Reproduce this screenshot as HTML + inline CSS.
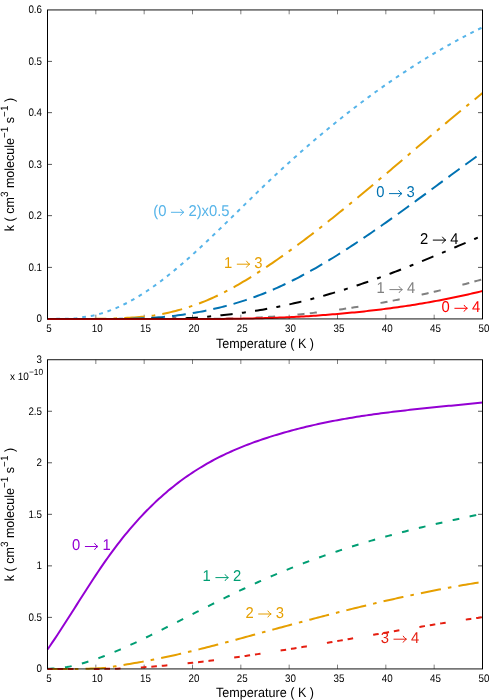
<!DOCTYPE html>
<html lang="en"><head><meta charset="utf-8"><title>chart</title>
<style>html,body{margin:0;padding:0;background:#fff}svg{display:block;will-change:transform}text{text-rendering:geometricPrecision}</style></head>
<body>
<svg width="500" height="700" viewBox="0 0 500 700">
<rect width="500" height="700" fill="#fff"/>
<path d="M95.83 319 v-4.3 M95.83 10 v4.3 M144.17 319 v-4.3 M144.17 10 v4.3 M192.50 319 v-4.3 M192.50 10 v4.3 M240.83 319 v-4.3 M240.83 10 v4.3 M289.17 319 v-4.3 M289.17 10 v4.3 M337.50 319 v-4.3 M337.50 10 v4.3 M385.83 319 v-4.3 M385.83 10 v4.3 M434.17 319 v-4.3 M434.17 10 v4.3" stroke="#000" stroke-width="0.5" fill="none"/>
<path d="M48 267.40 h4 M482 267.40 h-4 M48 215.65 h4 M482 215.65 h-4 M48 164.40 h4 M482 164.40 h-4 M48 112.65 h4 M482 112.65 h-4 M48 61.40 h4 M482 61.40 h-4" stroke="#000" stroke-width="0.66" fill="none"/>
<path d="M47.50 319.00 L49.92 318.95 L52.33 318.90 L54.75 318.86 L57.17 318.83 L59.58 318.81 L62.00 318.79 L64.42 318.77 L66.83 318.75 L69.25 318.71 L71.67 318.66 L74.08 318.52 L76.50 318.27 L78.92 317.93 L81.33 317.46 L83.75 317.06 L86.17 316.74 L88.58 316.40 L91.00 316.00 L93.42 315.54 L95.83 314.96 L98.25 314.34 L100.67 313.66 L103.08 312.93 L105.50 312.15 L107.92 311.31 L110.33 310.43 L112.75 309.49 L115.17 308.49 L117.58 307.45 L120.00 306.35 L122.42 305.21 L124.83 304.02 L127.25 302.78 L129.67 301.49 L132.08 300.16 L134.50 298.78 L136.92 297.36 L139.33 295.90 L141.75 294.39 L144.17 292.85 L146.58 291.26 L149.00 289.63 L151.42 287.96 L153.83 286.26 L156.25 284.52 L158.67 282.74 L161.08 280.93 L163.50 279.08 L165.92 277.20 L168.33 275.29 L170.75 273.34 L173.17 271.37 L175.58 269.37 L178.00 267.34 L180.42 265.29 L182.83 263.20 L185.25 261.10 L187.67 258.97 L190.08 256.82 L192.50 254.65 L194.92 252.45 L197.33 250.24 L199.75 248.01 L202.17 245.77 L204.58 243.50 L207.00 241.23 L209.42 238.93 L211.83 236.63 L214.25 234.31 L216.67 231.99 L219.08 229.65 L221.50 227.31 L223.92 224.96 L226.33 222.60 L228.75 220.24 L231.17 217.87 L233.58 215.50 L236.00 213.13 L238.42 210.75 L240.83 208.38 L243.25 206.01 L245.67 203.64 L248.08 201.27 L250.50 198.91 L252.92 196.55 L255.33 194.20 L257.75 191.86 L260.17 189.53 L262.58 187.20 L265.00 184.89 L267.42 182.59 L269.83 180.30 L272.25 178.02 L274.67 175.75 L277.08 173.50 L279.50 171.26 L281.92 169.03 L284.33 166.81 L286.75 164.60 L289.17 162.41 L291.58 160.23 L294.00 158.06 L296.42 155.90 L298.83 153.75 L301.25 151.62 L303.67 149.50 L306.08 147.39 L308.50 145.29 L310.92 143.20 L313.33 141.13 L315.75 139.07 L318.17 137.02 L320.58 134.98 L323.00 132.96 L325.42 130.95 L327.83 128.95 L330.25 126.96 L332.67 124.98 L335.08 123.02 L337.50 121.07 L339.92 119.13 L342.33 117.21 L344.75 115.29 L347.17 113.39 L349.58 111.51 L352.00 109.63 L354.42 107.77 L356.83 105.92 L359.25 104.08 L361.67 102.25 L364.08 100.44 L366.50 98.64 L368.92 96.85 L371.33 95.07 L373.75 93.31 L376.17 91.56 L378.58 89.82 L381.00 88.10 L383.42 86.39 L385.83 84.69 L388.25 83.00 L390.67 81.33 L393.08 79.66 L395.50 78.02 L397.92 76.38 L400.33 74.76 L402.75 73.15 L405.17 71.55 L407.58 69.97 L410.00 68.39 L412.42 66.84 L414.83 65.29 L417.25 63.76 L419.67 62.24 L422.08 60.73 L424.50 59.24 L426.92 57.76 L429.33 56.29 L431.75 54.83 L434.17 53.39 L436.58 51.96 L439.00 50.55 L441.42 49.15 L443.83 47.76 L446.25 46.38 L448.67 45.02 L451.08 43.67 L453.50 42.33 L455.92 41.01 L458.33 39.70 L460.75 38.40 L463.17 37.12 L465.58 35.85 L468.00 34.59 L470.42 33.35 L472.83 32.12 L475.25 30.90 L477.67 29.70 L480.08 28.51 L482.50 27.33" stroke="#56b4e9" stroke-width="2" fill="none" stroke-dasharray="3.8 4.872" stroke-dashoffset="-0.1"/>
<path d="M47.50 319.00 L49.92 319.00 L52.33 319.00 L54.75 319.00 L57.17 319.00 L59.58 318.99 L62.00 318.99 L64.42 318.98 L66.83 318.98 L69.25 318.97 L71.67 318.97 L74.08 318.96 L76.50 318.96 L78.92 318.95 L81.33 318.94 L83.75 318.93 L86.17 318.92 L88.58 318.91 L91.00 318.90 L93.42 318.89 L95.83 318.87 L98.25 318.85 L100.67 318.82 L103.08 318.77 L105.50 318.72 L107.92 318.65 L110.33 318.57 L112.75 318.49 L115.17 318.40 L117.58 318.31 L120.00 318.21 L122.42 318.11 L124.83 317.99 L127.25 317.86 L129.67 317.72 L132.08 317.57 L134.50 317.42 L136.92 317.25 L139.33 317.06 L141.75 316.85 L144.17 316.63 L146.58 316.37 L149.00 316.08 L151.42 315.77 L153.83 315.44 L156.25 315.05 L158.67 314.64 L161.08 314.19 L163.50 313.72 L165.92 313.22 L168.33 312.69 L170.75 312.14 L173.17 311.56 L175.58 310.94 L178.00 310.30 L180.42 309.63 L182.83 308.94 L185.25 308.21 L187.67 307.45 L190.08 306.67 L192.50 305.85 L194.92 305.01 L197.33 304.13 L199.75 303.22 L202.17 302.29 L204.58 301.32 L207.00 300.32 L209.42 299.29 L211.83 298.23 L214.25 297.14 L216.67 296.02 L219.08 294.86 L221.50 293.67 L223.92 292.46 L226.33 291.21 L228.75 289.93 L231.17 288.63 L233.58 287.30 L236.00 285.95 L238.42 284.56 L240.83 283.16 L243.25 281.73 L245.67 280.28 L248.08 278.80 L250.50 277.31 L252.92 275.79 L255.33 274.26 L257.75 272.71 L260.17 271.14 L262.58 269.55 L265.00 267.95 L267.42 266.33 L269.83 264.70 L272.25 263.05 L274.67 261.39 L277.08 259.72 L279.50 258.03 L281.92 256.32 L284.33 254.61 L286.75 252.88 L289.17 251.14 L291.58 249.39 L294.00 247.62 L296.42 245.84 L298.83 244.05 L301.25 242.25 L303.67 240.44 L306.08 238.62 L308.50 236.78 L310.92 234.94 L313.33 233.09 L315.75 231.22 L318.17 229.35 L320.58 227.47 L323.00 225.57 L325.42 223.67 L327.83 221.76 L330.25 219.84 L332.67 217.92 L335.08 215.98 L337.50 214.04 L339.92 212.09 L342.33 210.14 L344.75 208.17 L347.17 206.20 L349.58 204.23 L352.00 202.24 L354.42 200.26 L356.83 198.26 L359.25 196.26 L361.67 194.26 L364.08 192.25 L366.50 190.23 L368.92 188.22 L371.33 186.19 L373.75 184.17 L376.17 182.14 L378.58 180.11 L381.00 178.07 L383.42 176.03 L385.83 173.99 L388.25 171.95 L390.67 169.90 L393.08 167.85 L395.50 165.80 L397.92 163.75 L400.33 161.70 L402.75 159.65 L405.17 157.60 L407.58 155.54 L410.00 153.49 L412.42 151.44 L414.83 149.39 L417.25 147.33 L419.67 145.28 L422.08 143.23 L424.50 141.19 L426.92 139.14 L429.33 137.10 L431.75 135.05 L434.17 133.01 L436.58 130.98 L439.00 128.94 L441.42 126.91 L443.83 124.89 L446.25 122.86 L448.67 120.84 L451.08 118.83 L453.50 116.82 L455.92 114.81 L458.33 112.81 L460.75 110.82 L463.17 108.83 L465.58 106.85 L468.00 104.87 L470.42 102.90 L472.83 100.93 L475.25 98.97 L477.67 97.02 L480.08 95.08 L482.50 93.14" stroke="#e69f00" stroke-width="2" fill="none" stroke-dasharray="20.4 7.1 3.6 7.15" stroke-dashoffset="-0.3"/>
<path d="M47.50 319.00 L49.92 319.00 L52.33 319.00 L54.75 319.00 L57.17 319.00 L59.58 319.00 L62.00 319.00 L64.42 318.99 L66.83 318.99 L69.25 318.99 L71.67 318.99 L74.08 318.99 L76.50 318.98 L78.92 318.98 L81.33 318.98 L83.75 318.97 L86.17 318.97 L88.58 318.96 L91.00 318.96 L93.42 318.95 L95.83 318.95 L98.25 318.94 L100.67 318.94 L103.08 318.93 L105.50 318.92 L107.92 318.92 L110.33 318.91 L112.75 318.90 L115.17 318.89 L117.58 318.88 L120.00 318.87 L122.42 318.86 L124.83 318.83 L127.25 318.78 L129.67 318.72 L132.08 318.65 L134.50 318.58 L136.92 318.49 L139.33 318.40 L141.75 318.31 L144.17 318.21 L146.58 318.11 L149.00 317.98 L151.42 317.84 L153.83 317.69 L156.25 317.52 L158.67 317.34 L161.08 317.15 L163.50 316.94 L165.92 316.72 L168.33 316.48 L170.75 316.22 L173.17 315.94 L175.58 315.64 L178.00 315.32 L180.42 314.97 L182.83 314.64 L185.25 314.29 L187.67 313.92 L190.08 313.54 L192.50 313.14 L194.92 312.73 L197.33 312.30 L199.75 311.86 L202.17 311.40 L204.58 310.92 L207.00 310.43 L209.42 309.92 L211.83 309.39 L214.25 308.85 L216.67 308.29 L219.08 307.71 L221.50 307.11 L223.92 306.49 L226.33 305.86 L228.75 305.21 L231.17 304.53 L233.58 303.84 L236.00 303.13 L238.42 302.40 L240.83 301.65 L243.25 300.88 L245.67 300.09 L248.08 299.27 L250.50 298.44 L252.92 297.59 L255.33 296.71 L257.75 295.81 L260.17 294.90 L262.58 293.95 L265.00 292.99 L267.42 292.00 L269.83 291.00 L272.25 289.97 L274.67 288.91 L277.08 287.84 L279.50 286.74 L281.92 285.63 L284.33 284.49 L286.75 283.34 L289.17 282.16 L291.58 280.97 L294.00 279.75 L296.42 278.52 L298.83 277.27 L301.25 276.00 L303.67 274.71 L306.08 273.41 L308.50 272.08 L310.92 270.74 L313.33 269.39 L315.75 268.02 L318.17 266.63 L320.58 265.22 L323.00 263.81 L325.42 262.37 L327.83 260.92 L330.25 259.46 L332.67 257.98 L335.08 256.49 L337.50 254.99 L339.92 253.47 L342.33 251.94 L344.75 250.40 L347.17 248.84 L349.58 247.28 L352.00 245.70 L354.42 244.11 L356.83 242.51 L359.25 240.90 L361.67 239.28 L364.08 237.65 L366.50 236.01 L368.92 234.36 L371.33 232.70 L373.75 231.03 L376.17 229.36 L378.58 227.68 L381.00 225.99 L383.42 224.29 L385.83 222.58 L388.25 220.87 L390.67 219.15 L393.08 217.43 L395.50 215.70 L397.92 213.96 L400.33 212.22 L402.75 210.47 L405.17 208.72 L407.58 206.97 L410.00 205.21 L412.42 203.45 L414.83 201.69 L417.25 199.92 L419.67 198.15 L422.08 196.38 L424.50 194.60 L426.92 192.83 L429.33 191.05 L431.75 189.27 L434.17 187.49 L436.58 185.71 L439.00 183.93 L441.42 182.15 L443.83 180.37 L446.25 178.60 L448.67 176.82 L451.08 175.05 L453.50 173.27 L455.92 171.50 L458.33 169.73 L460.75 167.97 L463.17 166.21 L465.58 164.45 L468.00 162.69 L470.42 160.94 L472.83 159.20 L475.25 157.45 L477.67 155.72 L480.08 153.99 L482.50 152.26" stroke="#0072b2" stroke-width="2" fill="none" stroke-dasharray="13.85 7.06" stroke-dashoffset="0.8"/>
<path d="M47.50 319.00 L49.92 319.00 L52.33 319.00 L54.75 319.00 L57.17 319.00 L59.58 319.00 L62.00 319.00 L64.42 319.00 L66.83 319.00 L69.25 319.00 L71.67 319.00 L74.08 318.99 L76.50 318.99 L78.92 318.99 L81.33 318.99 L83.75 318.99 L86.17 318.99 L88.58 318.99 L91.00 318.99 L93.42 318.98 L95.83 318.98 L98.25 318.98 L100.67 318.98 L103.08 318.98 L105.50 318.97 L107.92 318.97 L110.33 318.97 L112.75 318.97 L115.17 318.96 L117.58 318.96 L120.00 318.96 L122.42 318.95 L124.83 318.95 L127.25 318.95 L129.67 318.94 L132.08 318.94 L134.50 318.93 L136.92 318.93 L139.33 318.93 L141.75 318.92 L144.17 318.92 L146.58 318.91 L149.00 318.89 L151.42 318.87 L153.83 318.84 L156.25 318.81 L158.67 318.78 L161.08 318.74 L163.50 318.70 L165.92 318.66 L168.33 318.62 L170.75 318.57 L173.17 318.52 L175.58 318.47 L178.00 318.42 L180.42 318.35 L182.83 318.28 L185.25 318.21 L187.67 318.12 L190.08 318.03 L192.50 317.93 L194.92 317.81 L197.33 317.65 L199.75 317.44 L202.17 317.20 L204.58 316.95 L207.00 316.69 L209.42 316.44 L211.83 316.19 L214.25 315.94 L216.67 315.70 L219.08 315.46 L221.50 315.22 L223.92 314.97 L226.33 314.71 L228.75 314.44 L231.17 314.17 L233.58 313.88 L236.00 313.59 L238.42 313.28 L240.83 312.97 L243.25 312.64 L245.67 312.31 L248.08 311.96 L250.50 311.61 L252.92 311.24 L255.33 310.86 L257.75 310.48 L260.17 310.08 L262.58 309.67 L265.00 309.25 L267.42 308.81 L269.83 308.37 L272.25 307.91 L274.67 307.45 L277.08 306.97 L279.50 306.48 L281.92 305.98 L284.33 305.47 L286.75 304.95 L289.17 304.42 L291.58 303.88 L294.00 303.33 L296.42 302.77 L298.83 302.19 L301.25 301.61 L303.67 301.02 L306.08 300.41 L308.50 299.80 L310.92 299.17 L313.33 298.54 L315.75 297.90 L318.17 297.24 L320.58 296.58 L323.00 295.91 L325.42 295.23 L327.83 294.53 L330.25 293.83 L332.67 293.12 L335.08 292.40 L337.50 291.67 L339.92 290.94 L342.33 290.19 L344.75 289.43 L347.17 288.67 L349.58 287.89 L352.00 287.11 L354.42 286.32 L356.83 285.52 L359.25 284.71 L361.67 283.89 L364.08 283.07 L366.50 282.24 L368.92 281.39 L371.33 280.54 L373.75 279.69 L376.17 278.82 L378.58 277.95 L381.00 277.07 L383.42 276.18 L385.83 275.28 L388.25 274.38 L390.67 273.47 L393.08 272.55 L395.50 271.63 L397.92 270.70 L400.33 269.76 L402.75 268.82 L405.17 267.87 L407.58 266.92 L410.00 265.96 L412.42 265.00 L414.83 264.03 L417.25 263.05 L419.67 262.08 L422.08 261.09 L424.50 260.11 L426.92 259.11 L429.33 258.12 L431.75 257.12 L434.17 256.12 L436.58 255.11 L439.00 254.10 L441.42 253.09 L443.83 252.08 L446.25 251.06 L448.67 250.04 L451.08 249.02 L453.50 248.00 L455.92 246.97 L458.33 245.94 L460.75 244.92 L463.17 243.89 L465.58 242.85 L468.00 241.82 L470.42 240.79 L472.83 239.76 L475.25 238.72 L477.67 237.69 L480.08 236.66 L482.50 235.62" stroke="#000000" stroke-width="2" fill="none" stroke-dasharray="12.3 9.3 4.0 9.33" stroke-dashoffset="1.6"/>
<path d="M47.50 319.00 L49.92 319.00 L52.33 319.00 L54.75 319.00 L57.17 319.00 L59.58 319.00 L62.00 319.00 L64.42 319.00 L66.83 319.00 L69.25 319.00 L71.67 319.00 L74.08 319.00 L76.50 319.00 L78.92 319.00 L81.33 319.00 L83.75 319.00 L86.17 319.00 L88.58 318.99 L91.00 318.99 L93.42 318.99 L95.83 318.99 L98.25 318.99 L100.67 318.99 L103.08 318.99 L105.50 318.99 L107.92 318.99 L110.33 318.99 L112.75 318.99 L115.17 318.99 L117.58 318.98 L120.00 318.98 L122.42 318.98 L124.83 318.98 L127.25 318.98 L129.67 318.98 L132.08 318.98 L134.50 318.97 L136.92 318.97 L139.33 318.97 L141.75 318.97 L144.17 318.97 L146.58 318.97 L149.00 318.96 L151.42 318.96 L153.83 318.96 L156.25 318.96 L158.67 318.95 L161.08 318.95 L163.50 318.95 L165.92 318.95 L168.33 318.95 L170.75 318.94 L173.17 318.94 L175.58 318.94 L178.00 318.93 L180.42 318.93 L182.83 318.93 L185.25 318.93 L187.67 318.92 L190.08 318.92 L192.50 318.92 L194.92 318.91 L197.33 318.90 L199.75 318.89 L202.17 318.88 L204.58 318.86 L207.00 318.84 L209.42 318.82 L211.83 318.79 L214.25 318.77 L216.67 318.75 L219.08 318.72 L221.50 318.69 L223.92 318.66 L226.33 318.63 L228.75 318.59 L231.17 318.55 L233.58 318.51 L236.00 318.46 L238.42 318.41 L240.83 318.35 L243.25 318.28 L245.67 318.20 L248.08 318.10 L250.50 318.00 L252.92 317.88 L255.33 317.75 L257.75 317.62 L260.17 317.48 L262.58 317.33 L265.00 317.18 L267.42 317.03 L269.83 316.87 L272.25 316.70 L274.67 316.53 L277.08 316.34 L279.50 316.15 L281.92 315.95 L284.33 315.75 L286.75 315.53 L289.17 315.31 L291.58 315.08 L294.00 314.86 L296.42 314.63 L298.83 314.40 L301.25 314.16 L303.67 313.91 L306.08 313.66 L308.50 313.41 L310.92 313.14 L313.33 312.87 L315.75 312.60 L318.17 312.31 L320.58 312.03 L323.00 311.73 L325.42 311.43 L327.83 311.13 L330.25 310.81 L332.67 310.50 L335.08 310.17 L337.50 309.84 L339.92 309.51 L342.33 309.16 L344.75 308.81 L347.17 308.46 L349.58 308.10 L352.00 307.73 L354.42 307.36 L356.83 306.98 L359.25 306.60 L361.67 306.21 L364.08 305.82 L366.50 305.41 L368.92 305.01 L371.33 304.59 L373.75 304.17 L376.17 303.75 L378.58 303.32 L381.00 302.88 L383.42 302.44 L385.83 301.99 L388.25 301.53 L390.67 301.07 L393.08 300.61 L395.50 300.14 L397.92 299.66 L400.33 299.17 L402.75 298.68 L405.17 298.19 L407.58 297.69 L410.00 297.18 L412.42 296.67 L414.83 296.15 L417.25 295.62 L419.67 295.09 L422.08 294.55 L424.50 294.01 L426.92 293.46 L429.33 292.91 L431.75 292.35 L434.17 291.78 L436.58 291.21 L439.00 290.64 L441.42 290.05 L443.83 289.46 L446.25 288.87 L448.67 288.27 L451.08 287.66 L453.50 287.05 L455.92 286.43 L458.33 285.81 L460.75 285.18 L463.17 284.55 L465.58 283.91 L468.00 283.26 L470.42 282.61 L472.83 281.95 L475.25 281.29 L477.67 280.62 L480.08 279.94 L482.50 279.26" stroke="#808080" stroke-width="2" fill="none" stroke-dasharray="7.1 5.3 7.1 22.45" stroke-dashoffset="1.6"/>
<path d="M47.50 319.00 L49.92 319.00 L52.33 319.00 L54.75 319.00 L57.17 319.00 L59.58 319.00 L62.00 319.00 L64.42 319.00 L66.83 319.00 L69.25 319.00 L71.67 319.00 L74.08 319.00 L76.50 319.00 L78.92 319.00 L81.33 319.00 L83.75 319.00 L86.17 319.00 L88.58 319.00 L91.00 319.00 L93.42 319.00 L95.83 319.00 L98.25 319.00 L100.67 318.99 L103.08 318.99 L105.50 318.99 L107.92 318.99 L110.33 318.99 L112.75 318.99 L115.17 318.99 L117.58 318.99 L120.00 318.99 L122.42 318.99 L124.83 318.99 L127.25 318.99 L129.67 318.99 L132.08 318.98 L134.50 318.98 L136.92 318.98 L139.33 318.98 L141.75 318.98 L144.17 318.98 L146.58 318.98 L149.00 318.98 L151.42 318.97 L153.83 318.97 L156.25 318.97 L158.67 318.97 L161.08 318.97 L163.50 318.97 L165.92 318.97 L168.33 318.96 L170.75 318.96 L173.17 318.96 L175.58 318.96 L178.00 318.96 L180.42 318.95 L182.83 318.95 L185.25 318.95 L187.67 318.95 L190.08 318.95 L192.50 318.94 L194.92 318.94 L197.33 318.94 L199.75 318.94 L202.17 318.93 L204.58 318.93 L207.00 318.93 L209.42 318.93 L211.83 318.92 L214.25 318.92 L216.67 318.92 L219.08 318.91 L221.50 318.90 L223.92 318.88 L226.33 318.86 L228.75 318.83 L231.17 318.80 L233.58 318.77 L236.00 318.73 L238.42 318.70 L240.83 318.66 L243.25 318.62 L245.67 318.58 L248.08 318.53 L250.50 318.48 L252.92 318.43 L255.33 318.37 L257.75 318.31 L260.17 318.25 L262.58 318.19 L265.00 318.12 L267.42 318.05 L269.83 317.97 L272.25 317.89 L274.67 317.80 L277.08 317.71 L279.50 317.61 L281.92 317.51 L284.33 317.40 L286.75 317.29 L289.17 317.18 L291.58 317.07 L294.00 316.95 L296.42 316.83 L298.83 316.70 L301.25 316.57 L303.67 316.43 L306.08 316.29 L308.50 316.14 L310.92 315.97 L313.33 315.81 L315.75 315.63 L318.17 315.44 L320.58 315.25 L323.00 315.06 L325.42 314.88 L327.83 314.70 L330.25 314.51 L332.67 314.32 L335.08 314.13 L337.50 313.93 L339.92 313.72 L342.33 313.51 L344.75 313.30 L347.17 313.08 L349.58 312.85 L352.00 312.62 L354.42 312.38 L356.83 312.14 L359.25 311.90 L361.67 311.64 L364.08 311.39 L366.50 311.12 L368.92 310.86 L371.33 310.58 L373.75 310.30 L376.17 310.02 L378.58 309.73 L381.00 309.43 L383.42 309.13 L385.83 308.82 L388.25 308.50 L390.67 308.18 L393.08 307.86 L395.50 307.52 L397.92 307.19 L400.33 306.84 L402.75 306.49 L405.17 306.13 L407.58 305.77 L410.00 305.40 L412.42 305.02 L414.83 304.64 L417.25 304.25 L419.67 303.85 L422.08 303.45 L424.50 303.04 L426.92 302.62 L429.33 302.20 L431.75 301.76 L434.17 301.33 L436.58 300.88 L439.00 300.43 L441.42 299.97 L443.83 299.51 L446.25 299.03 L448.67 298.55 L451.08 298.06 L453.50 297.57 L455.92 297.06 L458.33 296.55 L460.75 296.04 L463.17 295.51 L465.58 294.98 L468.00 294.44 L470.42 293.89 L472.83 293.33 L475.25 292.77 L477.67 292.19 L480.08 291.61 L482.50 291.02" stroke="#ff0000" stroke-width="2" fill="none"/>
<path d="M47.5 10 V319 M482.5 10 V319" stroke="#000" stroke-width="1" fill="none"/>
<path d="M47 9.95 H483 M47 318.93 H483" stroke="#000" stroke-width="0.93" fill="none"/>
<text transform="translate(42.0 322.40) scale(1 1.12)" text-anchor="end" font-family="Liberation Sans, sans-serif" font-size="9.8" fill="#000">0</text>
<text transform="translate(42.0 270.90) scale(1 1.12)" text-anchor="end" font-family="Liberation Sans, sans-serif" font-size="9.8" fill="#000">0.1</text>
<text transform="translate(42.0 219.40) scale(1 1.12)" text-anchor="end" font-family="Liberation Sans, sans-serif" font-size="9.8" fill="#000">0.2</text>
<text transform="translate(42.0 167.90) scale(1 1.12)" text-anchor="end" font-family="Liberation Sans, sans-serif" font-size="9.8" fill="#000">0.3</text>
<text transform="translate(42.0 116.40) scale(1 1.12)" text-anchor="end" font-family="Liberation Sans, sans-serif" font-size="9.8" fill="#000">0.4</text>
<text transform="translate(42.0 64.90) scale(1 1.12)" text-anchor="end" font-family="Liberation Sans, sans-serif" font-size="9.8" fill="#000">0.5</text>
<text transform="translate(42.0 13.40) scale(1 1.12)" text-anchor="end" font-family="Liberation Sans, sans-serif" font-size="9.8" fill="#000">0.6</text>
<text transform="translate(48.90 332.30) scale(1 1.12)" text-anchor="middle" font-family="Liberation Sans, sans-serif" font-size="9.8" fill="#000">5</text>
<text transform="translate(97.23 332.30) scale(1 1.12)" text-anchor="middle" font-family="Liberation Sans, sans-serif" font-size="9.8" fill="#000">10</text>
<text transform="translate(145.57 332.30) scale(1 1.12)" text-anchor="middle" font-family="Liberation Sans, sans-serif" font-size="9.8" fill="#000">15</text>
<text transform="translate(193.90 332.30) scale(1 1.12)" text-anchor="middle" font-family="Liberation Sans, sans-serif" font-size="9.8" fill="#000">20</text>
<text transform="translate(242.23 332.30) scale(1 1.12)" text-anchor="middle" font-family="Liberation Sans, sans-serif" font-size="9.8" fill="#000">25</text>
<text transform="translate(290.57 332.30) scale(1 1.12)" text-anchor="middle" font-family="Liberation Sans, sans-serif" font-size="9.8" fill="#000">30</text>
<text transform="translate(338.90 332.30) scale(1 1.12)" text-anchor="middle" font-family="Liberation Sans, sans-serif" font-size="9.8" fill="#000">35</text>
<text transform="translate(387.23 332.30) scale(1 1.12)" text-anchor="middle" font-family="Liberation Sans, sans-serif" font-size="9.8" fill="#000">40</text>
<text transform="translate(435.57 332.30) scale(1 1.12)" text-anchor="middle" font-family="Liberation Sans, sans-serif" font-size="9.8" fill="#000">45</text>
<text transform="translate(483.90 332.30) scale(1 1.12)" text-anchor="middle" font-family="Liberation Sans, sans-serif" font-size="9.8" fill="#000">50</text>
<text transform="translate(265 347.80) scale(1 1.06)" text-anchor="middle" font-family="Liberation Sans, sans-serif" font-size="12.6" fill="#000">Temperature ( K )</text>
<text transform="translate(14.2 164.50) rotate(-90) scale(1 1.06)" text-anchor="middle" font-family="Liberation Sans, sans-serif" font-size="12.5" fill="#000">k ( cm<tspan font-size="10" dy="-6.05">3</tspan><tspan dy="6.05"> molecule</tspan><tspan font-size="10" dy="-6.05">−1</tspan><tspan dy="6.05"> s</tspan><tspan font-size="10" dy="-6.05">−1</tspan><tspan dy="6.05"> )</tspan></text>
<text transform="translate(153.20 215.80) scale(1 1.06)" font-family="Liberation Sans, sans-serif" font-size="14.8" fill="#56b4e9">(</text>
<text transform="translate(158.13 215.80) scale(1 1.06)" font-family="Liberation Sans, sans-serif" font-size="14.8" fill="#56b4e9">0</text>
<path d="M170.96 212.30 H183.66" stroke="#56b4e9" stroke-width="1.0" fill="none"/><path d="M180.66 209.30 Q181.76 211.30 183.96 212.30 Q181.76 213.30 180.66 215.30" stroke="#56b4e9" stroke-width="1.0" fill="none" stroke-linecap="round" stroke-linejoin="round"/>
<text transform="translate(188.46 215.80) scale(1 1.06)" font-family="Liberation Sans, sans-serif" font-size="14.8" fill="#56b4e9">2)x0.5</text>
<text transform="translate(224.00 267.70) scale(1 1.06)" font-family="Liberation Sans, sans-serif" font-size="14.8" fill="#e69f00">1</text>
<path d="M236.83 264.20 H249.53" stroke="#e69f00" stroke-width="1.0" fill="none"/><path d="M246.53 261.20 Q247.63 263.20 249.83 264.20 Q247.63 265.20 246.53 267.20" stroke="#e69f00" stroke-width="1.0" fill="none" stroke-linecap="round" stroke-linejoin="round"/>
<text transform="translate(254.33 267.70) scale(1 1.06)" font-family="Liberation Sans, sans-serif" font-size="14.8" fill="#e69f00">3</text>
<text transform="translate(376.20 197.10) scale(1 1.06)" font-family="Liberation Sans, sans-serif" font-size="14.8" fill="#0072b2">0</text>
<path d="M389.03 193.60 H401.73" stroke="#0072b2" stroke-width="1.0" fill="none"/><path d="M398.73 190.60 Q399.83 192.60 402.03 193.60 Q399.83 194.60 398.73 196.60" stroke="#0072b2" stroke-width="1.0" fill="none" stroke-linecap="round" stroke-linejoin="round"/>
<text transform="translate(406.53 197.10) scale(1 1.06)" font-family="Liberation Sans, sans-serif" font-size="14.8" fill="#0072b2">3</text>
<text transform="translate(420.00 243.60) scale(1 1.06)" font-family="Liberation Sans, sans-serif" font-size="14.8" fill="#000000">2</text>
<path d="M432.83 240.10 H445.53" stroke="#000000" stroke-width="1.0" fill="none"/><path d="M442.53 237.10 Q443.63 239.10 445.83 240.10 Q443.63 241.10 442.53 243.10" stroke="#000000" stroke-width="1.0" fill="none" stroke-linecap="round" stroke-linejoin="round"/>
<text transform="translate(450.33 243.60) scale(1 1.06)" font-family="Liberation Sans, sans-serif" font-size="14.8" fill="#000000">4</text>
<text transform="translate(376.60 293.10) scale(1 1.06)" font-family="Liberation Sans, sans-serif" font-size="14.8" fill="#808080">1</text>
<path d="M389.43 289.60 H402.13" stroke="#808080" stroke-width="1.0" fill="none"/><path d="M399.13 286.60 Q400.23 288.60 402.43 289.60 Q400.23 290.60 399.13 292.60" stroke="#808080" stroke-width="1.0" fill="none" stroke-linecap="round" stroke-linejoin="round"/>
<text transform="translate(406.93 293.10) scale(1 1.06)" font-family="Liberation Sans, sans-serif" font-size="14.8" fill="#808080">4</text>
<text transform="translate(441.60 311.80) scale(1 1.06)" font-family="Liberation Sans, sans-serif" font-size="14.8" fill="#ff0000">0</text>
<path d="M454.43 308.30 H467.13" stroke="#ff0000" stroke-width="1.0" fill="none"/><path d="M464.13 305.30 Q465.23 307.30 467.43 308.30 Q465.23 309.30 464.13 311.30" stroke="#ff0000" stroke-width="1.0" fill="none" stroke-linecap="round" stroke-linejoin="round"/>
<text transform="translate(471.93 311.80) scale(1 1.06)" font-family="Liberation Sans, sans-serif" font-size="14.8" fill="#ff0000">4</text>
<path d="M95.83 668.93 v-4.3 M95.83 359.72 v4.3 M144.17 668.93 v-4.3 M144.17 359.72 v4.3 M192.50 668.93 v-4.3 M192.50 359.72 v4.3 M240.83 668.93 v-4.3 M240.83 359.72 v4.3 M289.17 668.93 v-4.3 M289.17 359.72 v4.3 M337.50 668.93 v-4.3 M337.50 359.72 v4.3 M385.83 668.93 v-4.3 M385.83 359.72 v4.3 M434.17 668.93 v-4.3 M434.17 359.72 v4.3" stroke="#000" stroke-width="0.5" fill="none"/>
<path d="M48 617.39 h4 M482 617.39 h-4 M48 565.86 h4 M482 565.86 h-4 M48 514.32 h4 M482 514.32 h-4 M48 462.79 h4 M482 462.79 h-4 M48 411.25 h4 M482 411.25 h-4" stroke="#000" stroke-width="0.66" fill="none"/>
<path d="M47.50 649.49 L49.92 645.98 L52.33 642.43 L54.75 638.83 L57.17 635.19 L59.58 631.51 L62.00 627.80 L64.42 624.06 L66.83 620.30 L69.25 616.52 L71.67 612.73 L74.08 608.93 L76.50 605.12 L78.92 601.32 L81.33 597.53 L83.75 593.74 L86.17 589.97 L88.58 586.22 L91.00 582.49 L93.42 578.79 L95.83 575.13 L98.25 571.51 L100.67 567.92 L103.08 564.39 L105.50 560.91 L107.92 557.49 L110.33 554.13 L112.75 550.83 L115.17 547.59 L117.58 544.41 L120.00 541.29 L122.42 538.23 L124.83 535.23 L127.25 532.29 L129.67 529.41 L132.08 526.58 L134.50 523.81 L136.92 521.09 L139.33 518.43 L141.75 515.83 L144.17 513.28 L146.58 510.78 L149.00 508.34 L151.42 505.94 L153.83 503.60 L156.25 501.31 L158.67 499.08 L161.08 496.89 L163.50 494.75 L165.92 492.66 L168.33 490.61 L170.75 488.61 L173.17 486.66 L175.58 484.75 L178.00 482.89 L180.42 481.07 L182.83 479.30 L185.25 477.56 L187.67 475.87 L190.08 474.21 L192.50 472.60 L194.92 471.02 L197.33 469.48 L199.75 467.98 L202.17 466.52 L204.58 465.09 L207.00 463.69 L209.42 462.33 L211.83 461.00 L214.25 459.71 L216.67 458.44 L219.08 457.21 L221.50 456.00 L223.92 454.83 L226.33 453.68 L228.75 452.56 L231.17 451.47 L233.58 450.40 L236.00 449.35 L238.42 448.34 L240.83 447.34 L243.25 446.37 L245.67 445.42 L248.08 444.49 L250.50 443.57 L252.92 442.68 L255.33 441.81 L257.75 440.96 L260.17 440.12 L262.58 439.30 L265.00 438.49 L267.42 437.70 L269.83 436.92 L272.25 436.16 L274.67 435.41 L277.08 434.67 L279.50 433.95 L281.92 433.24 L284.33 432.54 L286.75 431.86 L289.17 431.19 L291.58 430.53 L294.00 429.89 L296.42 429.25 L298.83 428.63 L301.25 428.02 L303.67 427.43 L306.08 426.84 L308.50 426.27 L310.92 425.70 L313.33 425.15 L315.75 424.61 L318.17 424.08 L320.58 423.56 L323.00 423.05 L325.42 422.55 L327.83 422.06 L330.25 421.57 L332.67 421.10 L335.08 420.64 L337.50 420.19 L339.92 419.74 L342.33 419.31 L344.75 418.88 L347.17 418.46 L349.58 418.05 L352.00 417.65 L354.42 417.25 L356.83 416.86 L359.25 416.48 L361.67 416.11 L364.08 415.74 L366.50 415.38 L368.92 415.03 L371.33 414.68 L373.75 414.34 L376.17 414.01 L378.58 413.68 L381.00 413.36 L383.42 413.04 L385.83 412.73 L388.25 412.42 L390.67 412.12 L393.08 411.83 L395.50 411.53 L397.92 411.24 L400.33 410.96 L402.75 410.68 L405.17 410.41 L407.58 410.13 L410.00 409.86 L412.42 409.60 L414.83 409.34 L417.25 409.08 L419.67 408.82 L422.08 408.56 L424.50 408.31 L426.92 408.06 L429.33 407.81 L431.75 407.57 L434.17 407.32 L436.58 407.08 L439.00 406.83 L441.42 406.59 L443.83 406.35 L446.25 406.11 L448.67 405.87 L451.08 405.63 L453.50 405.39 L455.92 405.15 L458.33 404.91 L460.75 404.67 L463.17 404.43 L465.58 404.19 L468.00 403.95 L470.42 403.70 L472.83 403.46 L475.25 403.21 L477.67 402.96 L480.08 402.71 L482.50 402.46" stroke="#9400d3" stroke-width="2" fill="none"/>
<path d="M47.50 668.83 L49.92 668.74 L52.33 668.60 L54.75 668.44 L57.17 668.24 L59.58 668.03 L62.00 667.77 L64.42 667.45 L66.83 667.07 L69.25 666.63 L71.67 666.14 L74.08 665.59 L76.50 664.96 L78.92 664.30 L81.33 663.65 L83.75 662.96 L86.17 662.25 L88.58 661.51 L91.00 660.73 L93.42 659.94 L95.83 659.11 L98.25 658.26 L100.67 657.39 L103.08 656.49 L105.50 655.57 L107.92 654.62 L110.33 653.66 L112.75 652.68 L115.17 651.67 L117.58 650.65 L120.00 649.61 L122.42 648.56 L124.83 647.49 L127.25 646.40 L129.67 645.30 L132.08 644.18 L134.50 643.06 L136.92 641.92 L139.33 640.77 L141.75 639.61 L144.17 638.44 L146.58 637.27 L149.00 636.08 L151.42 634.89 L153.83 633.70 L156.25 632.50 L158.67 631.29 L161.08 630.08 L163.50 628.87 L165.92 627.65 L168.33 626.44 L170.75 625.22 L173.17 623.99 L175.58 622.77 L178.00 621.54 L180.42 620.32 L182.83 619.09 L185.25 617.86 L187.67 616.63 L190.08 615.40 L192.50 614.17 L194.92 612.94 L197.33 611.72 L199.75 610.49 L202.17 609.27 L204.58 608.05 L207.00 606.83 L209.42 605.61 L211.83 604.39 L214.25 603.18 L216.67 601.98 L219.08 600.77 L221.50 599.57 L223.92 598.38 L226.33 597.19 L228.75 596.00 L231.17 594.82 L233.58 593.65 L236.00 592.48 L238.42 591.31 L240.83 590.16 L243.25 589.01 L245.67 587.87 L248.08 586.73 L250.50 585.61 L252.92 584.49 L255.33 583.38 L257.75 582.28 L260.17 581.19 L262.58 580.11 L265.00 579.03 L267.42 577.97 L269.83 576.92 L272.25 575.88 L274.67 574.85 L277.08 573.82 L279.50 572.81 L281.92 571.81 L284.33 570.81 L286.75 569.83 L289.17 568.85 L291.58 567.89 L294.00 566.93 L296.42 565.98 L298.83 565.04 L301.25 564.11 L303.67 563.19 L306.08 562.28 L308.50 561.38 L310.92 560.48 L313.33 559.59 L315.75 558.72 L318.17 557.85 L320.58 556.98 L323.00 556.13 L325.42 555.29 L327.83 554.45 L330.25 553.62 L332.67 552.80 L335.08 551.98 L337.50 551.18 L339.92 550.38 L342.33 549.59 L344.75 548.81 L347.17 548.03 L349.58 547.26 L352.00 546.50 L354.42 545.75 L356.83 545.00 L359.25 544.26 L361.67 543.53 L364.08 542.80 L366.50 542.08 L368.92 541.37 L371.33 540.66 L373.75 539.96 L376.17 539.26 L378.58 538.58 L381.00 537.90 L383.42 537.22 L385.83 536.55 L388.25 535.89 L390.67 535.23 L393.08 534.58 L395.50 533.93 L397.92 533.29 L400.33 532.66 L402.75 532.03 L405.17 531.41 L407.58 530.79 L410.00 530.18 L412.42 529.57 L414.83 528.97 L417.25 528.37 L419.67 527.78 L422.08 527.19 L424.50 526.61 L426.92 526.03 L429.33 525.45 L431.75 524.88 L434.17 524.32 L436.58 523.76 L439.00 523.20 L441.42 522.65 L443.83 522.10 L446.25 521.56 L448.67 521.02 L451.08 520.48 L453.50 519.95 L455.92 519.42 L458.33 518.90 L460.75 518.38 L463.17 517.86 L465.58 517.34 L468.00 516.83 L470.42 516.32 L472.83 515.82 L475.25 515.32 L477.67 514.82 L480.08 514.32 L482.50 513.83" stroke="#009e73" stroke-width="2" fill="none" stroke-dasharray="6.8 10.544" stroke-dashoffset="-0.2"/>
<path d="M47.50 669.00 L49.92 669.00 L52.33 669.00 L54.75 669.00 L57.17 668.99 L59.58 668.99 L62.00 668.98 L64.42 668.98 L66.83 668.97 L69.25 668.97 L71.67 668.96 L74.08 668.94 L76.50 668.92 L78.92 668.88 L81.33 668.84 L83.75 668.78 L86.17 668.72 L88.58 668.65 L91.00 668.57 L93.42 668.48 L95.83 668.39 L98.25 668.28 L100.67 668.13 L103.08 667.95 L105.50 667.73 L107.92 667.44 L110.33 667.10 L112.75 666.73 L115.17 666.35 L117.58 665.95 L120.00 665.54 L122.42 665.11 L124.83 664.65 L127.25 664.28 L129.67 663.90 L132.08 663.51 L134.50 663.11 L136.92 662.71 L139.33 662.29 L141.75 661.86 L144.17 661.42 L146.58 660.97 L149.00 660.51 L151.42 660.05 L153.83 659.57 L156.25 659.09 L158.67 658.60 L161.08 658.10 L163.50 657.59 L165.92 657.07 L168.33 656.55 L170.75 656.02 L173.17 655.48 L175.58 654.93 L178.00 654.38 L180.42 653.83 L182.83 653.26 L185.25 652.69 L187.67 652.11 L190.08 651.53 L192.50 650.95 L194.92 650.35 L197.33 649.75 L199.75 649.15 L202.17 648.54 L204.58 647.93 L207.00 647.32 L209.42 646.70 L211.83 646.07 L214.25 645.44 L216.67 644.81 L219.08 644.18 L221.50 643.54 L223.92 642.90 L226.33 642.25 L228.75 641.61 L231.17 640.96 L233.58 640.31 L236.00 639.66 L238.42 639.00 L240.83 638.35 L243.25 637.69 L245.67 637.03 L248.08 636.37 L250.50 635.71 L252.92 635.05 L255.33 634.39 L257.75 633.73 L260.17 633.07 L262.58 632.41 L265.00 631.75 L267.42 631.09 L269.83 630.44 L272.25 629.78 L274.67 629.12 L277.08 628.47 L279.50 627.81 L281.92 627.16 L284.33 626.51 L286.75 625.86 L289.17 625.21 L291.58 624.56 L294.00 623.91 L296.42 623.26 L298.83 622.62 L301.25 621.98 L303.67 621.33 L306.08 620.69 L308.50 620.05 L310.92 619.42 L313.33 618.78 L315.75 618.15 L318.17 617.52 L320.58 616.89 L323.00 616.26 L325.42 615.64 L327.83 615.01 L330.25 614.39 L332.67 613.77 L335.08 613.15 L337.50 612.54 L339.92 611.93 L342.33 611.32 L344.75 610.71 L347.17 610.11 L349.58 609.50 L352.00 608.90 L354.42 608.31 L356.83 607.71 L359.25 607.12 L361.67 606.53 L364.08 605.95 L366.50 605.36 L368.92 604.78 L371.33 604.21 L373.75 603.63 L376.17 603.06 L378.58 602.49 L381.00 601.93 L383.42 601.37 L385.83 600.81 L388.25 600.26 L390.67 599.71 L393.08 599.16 L395.50 598.62 L397.92 598.08 L400.33 597.54 L402.75 597.01 L405.17 596.48 L407.58 595.96 L410.00 595.44 L412.42 594.92 L414.83 594.41 L417.25 593.90 L419.67 593.40 L422.08 592.90 L424.50 592.40 L426.92 591.91 L429.33 591.43 L431.75 590.94 L434.17 590.47 L436.58 589.99 L439.00 589.52 L441.42 589.06 L443.83 588.60 L446.25 588.15 L448.67 587.70 L451.08 587.25 L453.50 586.81 L455.92 586.38 L458.33 585.95 L460.75 585.52 L463.17 585.10 L465.58 584.69 L468.00 584.28 L470.42 583.87 L472.83 583.48 L475.25 583.08 L477.67 582.69 L480.08 582.31 L482.50 581.94" stroke="#e69f00" stroke-width="2" fill="none" stroke-dasharray="20.4 7.1 3.6 7.15" stroke-dashoffset="0.2"/>
<path d="M47.50 669.00 L49.92 669.00 L52.33 669.00 L54.75 669.00 L57.17 669.00 L59.58 669.00 L62.00 669.00 L64.42 669.00 L66.83 668.99 L69.25 668.99 L71.67 668.99 L74.08 668.99 L76.50 668.99 L78.92 668.98 L81.33 668.98 L83.75 668.98 L86.17 668.97 L88.58 668.97 L91.00 668.97 L93.42 668.96 L95.83 668.96 L98.25 668.95 L100.67 668.93 L103.08 668.91 L105.50 668.87 L107.92 668.84 L110.33 668.79 L112.75 668.74 L115.17 668.69 L117.58 668.63 L120.00 668.57 L122.42 668.50 L124.83 668.41 L127.25 668.30 L129.67 668.17 L132.08 668.03 L134.50 667.88 L136.92 667.72 L139.33 667.55 L141.75 667.38 L144.17 667.21 L146.58 667.03 L149.00 666.85 L151.42 666.66 L153.83 666.46 L156.25 666.26 L158.67 666.06 L161.08 665.86 L163.50 665.66 L165.92 665.45 L168.33 665.24 L170.75 665.02 L173.17 664.79 L175.58 664.55 L178.00 664.32 L180.42 664.07 L182.83 663.82 L185.25 663.57 L187.67 663.31 L190.08 663.05 L192.50 662.78 L194.92 662.51 L197.33 662.24 L199.75 661.96 L202.17 661.67 L204.58 661.38 L207.00 661.09 L209.42 660.79 L211.83 660.49 L214.25 660.19 L216.67 659.88 L219.08 659.57 L221.50 659.25 L223.92 658.93 L226.33 658.61 L228.75 658.28 L231.17 657.95 L233.58 657.62 L236.00 657.29 L238.42 656.95 L240.83 656.60 L243.25 656.26 L245.67 655.91 L248.08 655.56 L250.50 655.20 L252.92 654.85 L255.33 654.48 L257.75 654.12 L260.17 653.76 L262.58 653.39 L265.00 653.02 L267.42 652.64 L269.83 652.27 L272.25 651.89 L274.67 651.51 L277.08 651.13 L279.50 650.74 L281.92 650.36 L284.33 649.97 L286.75 649.58 L289.17 649.19 L291.58 648.79 L294.00 648.40 L296.42 648.00 L298.83 647.60 L301.25 647.20 L303.67 646.80 L306.08 646.39 L308.50 645.99 L310.92 645.58 L313.33 645.17 L315.75 644.76 L318.17 644.35 L320.58 643.94 L323.00 643.53 L325.42 643.12 L327.83 642.70 L330.25 642.29 L332.67 641.87 L335.08 641.45 L337.50 641.04 L339.92 640.62 L342.33 640.20 L344.75 639.78 L347.17 639.36 L349.58 638.94 L352.00 638.52 L354.42 638.10 L356.83 637.68 L359.25 637.26 L361.67 636.84 L364.08 636.42 L366.50 636.00 L368.92 635.58 L371.33 635.16 L373.75 634.75 L376.17 634.33 L378.58 633.91 L381.00 633.49 L383.42 633.07 L385.83 632.66 L388.25 632.24 L390.67 631.82 L393.08 631.41 L395.50 631.00 L397.92 630.58 L400.33 630.17 L402.75 629.76 L405.17 629.35 L407.58 628.94 L410.00 628.54 L412.42 628.13 L414.83 627.73 L417.25 627.32 L419.67 626.92 L422.08 626.52 L424.50 626.12 L426.92 625.73 L429.33 625.33 L431.75 624.94 L434.17 624.55 L436.58 624.16 L439.00 623.77 L441.42 623.38 L443.83 623.00 L446.25 622.62 L448.67 622.24 L451.08 621.86 L453.50 621.49 L455.92 621.12 L458.33 620.75 L460.75 620.38 L463.17 620.02 L465.58 619.66 L468.00 619.30 L470.42 618.94 L472.83 618.59 L475.25 618.24 L477.67 617.89 L480.08 617.55 L482.50 617.21" stroke="#e51e10" stroke-width="2" fill="none" stroke-dasharray="5.6 4.9 5.6 4.9 5.6 20.34" stroke-dashoffset="0.5"/>
<path d="M47.5 360 V669 M482.5 360 V669" stroke="#000" stroke-width="1" fill="none"/>
<path d="M47 359.72 H483 M47 668.93 H483" stroke="#000" stroke-width="0.93" fill="none"/>
<text transform="translate(42.0 672.40) scale(1 1.12)" text-anchor="end" font-family="Liberation Sans, sans-serif" font-size="9.8" fill="#000">0</text>
<text transform="translate(42.0 620.90) scale(1 1.12)" text-anchor="end" font-family="Liberation Sans, sans-serif" font-size="9.8" fill="#000">0.5</text>
<text transform="translate(42.0 569.40) scale(1 1.12)" text-anchor="end" font-family="Liberation Sans, sans-serif" font-size="9.8" fill="#000">1</text>
<text transform="translate(42.0 517.90) scale(1 1.12)" text-anchor="end" font-family="Liberation Sans, sans-serif" font-size="9.8" fill="#000">1.5</text>
<text transform="translate(42.0 466.40) scale(1 1.12)" text-anchor="end" font-family="Liberation Sans, sans-serif" font-size="9.8" fill="#000">2</text>
<text transform="translate(42.0 414.90) scale(1 1.12)" text-anchor="end" font-family="Liberation Sans, sans-serif" font-size="9.8" fill="#000">2.5</text>
<text transform="translate(42.0 363.40) scale(1 1.12)" text-anchor="end" font-family="Liberation Sans, sans-serif" font-size="9.8" fill="#000">3</text>
<text transform="translate(48.90 682.30) scale(1 1.12)" text-anchor="middle" font-family="Liberation Sans, sans-serif" font-size="9.8" fill="#000">5</text>
<text transform="translate(97.23 682.30) scale(1 1.12)" text-anchor="middle" font-family="Liberation Sans, sans-serif" font-size="9.8" fill="#000">10</text>
<text transform="translate(145.57 682.30) scale(1 1.12)" text-anchor="middle" font-family="Liberation Sans, sans-serif" font-size="9.8" fill="#000">15</text>
<text transform="translate(193.90 682.30) scale(1 1.12)" text-anchor="middle" font-family="Liberation Sans, sans-serif" font-size="9.8" fill="#000">20</text>
<text transform="translate(242.23 682.30) scale(1 1.12)" text-anchor="middle" font-family="Liberation Sans, sans-serif" font-size="9.8" fill="#000">25</text>
<text transform="translate(290.57 682.30) scale(1 1.12)" text-anchor="middle" font-family="Liberation Sans, sans-serif" font-size="9.8" fill="#000">30</text>
<text transform="translate(338.90 682.30) scale(1 1.12)" text-anchor="middle" font-family="Liberation Sans, sans-serif" font-size="9.8" fill="#000">35</text>
<text transform="translate(387.23 682.30) scale(1 1.12)" text-anchor="middle" font-family="Liberation Sans, sans-serif" font-size="9.8" fill="#000">40</text>
<text transform="translate(435.57 682.30) scale(1 1.12)" text-anchor="middle" font-family="Liberation Sans, sans-serif" font-size="9.8" fill="#000">45</text>
<text transform="translate(483.90 682.30) scale(1 1.12)" text-anchor="middle" font-family="Liberation Sans, sans-serif" font-size="9.8" fill="#000">50</text>
<text transform="translate(265 697.35) scale(1 1.06)" text-anchor="middle" font-family="Liberation Sans, sans-serif" font-size="12.6" fill="#000">Temperature ( K )</text>
<text transform="translate(14.2 514.50) rotate(-90) scale(1 1.06)" text-anchor="middle" font-family="Liberation Sans, sans-serif" font-size="12.5" fill="#000">k ( cm<tspan font-size="10" dy="-6.05">3</tspan><tspan dy="6.05"> molecule</tspan><tspan font-size="10" dy="-6.05">−1</tspan><tspan dy="6.05"> s</tspan><tspan font-size="10" dy="-6.05">−1</tspan><tspan dy="6.05"> )</tspan></text>
<text transform="translate(10 380.2) scale(1 1.06)" font-family="Liberation Sans, sans-serif" font-size="10" fill="#000">x 10<tspan font-size="8.4" dy="-5.2">−10</tspan></text>
<text transform="translate(72.10 550.00) scale(1 1.06)" font-family="Liberation Sans, sans-serif" font-size="14.8" fill="#9400d3">0</text>
<path d="M84.93 546.50 H97.63" stroke="#9400d3" stroke-width="1.0" fill="none"/><path d="M94.63 543.50 Q95.73 545.50 97.93 546.50 Q95.73 547.50 94.63 549.50" stroke="#9400d3" stroke-width="1.0" fill="none" stroke-linecap="round" stroke-linejoin="round"/>
<text transform="translate(102.43 550.00) scale(1 1.06)" font-family="Liberation Sans, sans-serif" font-size="14.8" fill="#9400d3">1</text>
<text transform="translate(202.60 581.10) scale(1 1.06)" font-family="Liberation Sans, sans-serif" font-size="14.8" fill="#009e73">1</text>
<path d="M215.43 577.60 H228.13" stroke="#009e73" stroke-width="1.0" fill="none"/><path d="M225.13 574.60 Q226.23 576.60 228.43 577.60 Q226.23 578.60 225.13 580.60" stroke="#009e73" stroke-width="1.0" fill="none" stroke-linecap="round" stroke-linejoin="round"/>
<text transform="translate(232.93 581.10) scale(1 1.06)" font-family="Liberation Sans, sans-serif" font-size="14.8" fill="#009e73">2</text>
<text transform="translate(245.40 617.50) scale(1 1.06)" font-family="Liberation Sans, sans-serif" font-size="14.8" fill="#e69f00">2</text>
<path d="M258.23 614.00 H270.93" stroke="#e69f00" stroke-width="1.0" fill="none"/><path d="M267.93 611.00 Q269.03 613.00 271.23 614.00 Q269.03 615.00 267.93 617.00" stroke="#e69f00" stroke-width="1.0" fill="none" stroke-linecap="round" stroke-linejoin="round"/>
<text transform="translate(275.73 617.50) scale(1 1.06)" font-family="Liberation Sans, sans-serif" font-size="14.8" fill="#e69f00">3</text>
<text transform="translate(380.70 642.70) scale(1 1.06)" font-family="Liberation Sans, sans-serif" font-size="14.8" fill="#e51e10">3</text>
<path d="M393.53 639.20 H406.23" stroke="#e51e10" stroke-width="1.0" fill="none"/><path d="M403.23 636.20 Q404.33 638.20 406.53 639.20 Q404.33 640.20 403.23 642.20" stroke="#e51e10" stroke-width="1.0" fill="none" stroke-linecap="round" stroke-linejoin="round"/>
<text transform="translate(411.03 642.70) scale(1 1.06)" font-family="Liberation Sans, sans-serif" font-size="14.8" fill="#e51e10">4</text>
</svg>
</body></html>
